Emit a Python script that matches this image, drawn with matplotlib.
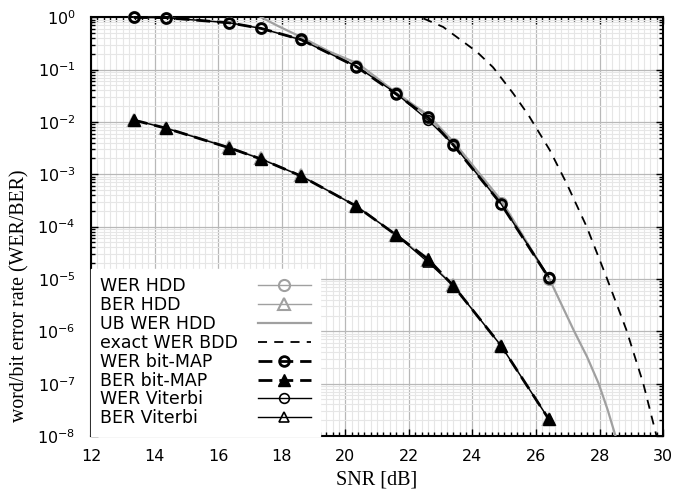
import numpy as np
import matplotlib
matplotlib.use('Agg')
import matplotlib.pyplot as plt
from matplotlib.ticker import MultipleLocator, LogLocator, NullFormatter

plt.rcParams['font.family'] = ['DejaVu Sans']

# simulated points (SNR in dB)
snr = [13.35, 14.35, 16.35, 17.35, 18.6, 20.35, 21.6, 22.6, 23.4, 24.9, 26.4]
wer_hdd = [0.99, 0.98, 0.79, 0.62, 0.38, 0.118, 0.036, 0.0125, 0.0038, 2.8e-4, 1.0e-5]
ber_hdd = [0.0110, 7.8e-3, 3.3e-3, 2.0e-3, 9.5e-4, 2.5e-4, 7.0e-5, 2.3e-5, 7.5e-6, 5.3e-7, 2.1e-8]
wer_map = [0.99, 0.98, 0.78, 0.61, 0.375, 0.113, 0.034, 0.0122, 0.0036, 2.7e-4, 1.05e-5]
ber_map = [0.0108, 7.6e-3, 3.2e-3, 1.95e-3, 9.3e-4, 2.45e-4, 6.9e-5, 2.4e-5, 7.4e-6, 5.3e-7, 2.1e-8]
wer_vit = [0.99, 0.98, 0.78, 0.61, 0.37, 0.115, 0.035, 0.0108, 0.0037, 2.7e-4, 1.1e-5]
ber_vit = [0.0108, 7.6e-3, 3.2e-3, 1.95e-3, 9.3e-4, 2.45e-4, 6.9e-5, 2.1e-5, 7.4e-6, 5.3e-7, 2.1e-8]

# analytical curves
snr_ub = [17.0, 17.35, 17.9, 18.6, 19.5, 20.4, 21.6, 22.6, 23.4, 24.9, 26.42, 27.2, 27.6, 27.97, 28.25, 28.5, 28.7]
wer_ub = [1.3, 1.0, 0.67, 0.42, 0.22, 0.13, 0.036, 0.0135, 0.0042, 3.2e-4, 1.0e-5, 1.0e-6, 3.3e-7, 1.0e-7, 3.2e-8, 1.0e-8, 4e-9]
snr_bdd = [22.0, 22.4, 23.08, 23.65, 24.13, 24.65, 25.28, 25.76, 26.43, 26.96, 27.59, 28.21, 28.84, 29.37, 29.79, 30.0]
wer_bdd = [1.3, 0.98, 0.65, 0.36, 0.22, 0.11, 0.035, 0.0135, 2.9e-3, 6.7e-4, 1.0e-4, 1.1e-5, 1.07e-6, 1.02e-7, 1.0e-8, 3e-9]

fig = plt.figure(figsize=(6.74, 4.91), dpi=100)
ax = fig.add_axes([0.135, 0.112, 0.849, 0.853])

gray = '#a0a0a0'
ax.semilogy(snr, wer_hdd, color=gray, lw=1, marker='o', ms=8, mfc='none', mec=gray, mew=1.5,
            label='WER HDD', clip_on=False, zorder=3)
ax.semilogy(snr, ber_hdd, color=gray, lw=1, marker='^', ms=8, mfc='none', mec=gray, mew=1.5,
            label='BER HDD', clip_on=False, zorder=3)
ax.semilogy(snr_ub, wer_ub, color=gray, lw=1.6, label='UB WER HDD', zorder=3)
ax.semilogy(snr_bdd, wer_bdd, color='black', lw=1.3, dashes=(5, 4), label='exact WER BDD', zorder=3)
ax.semilogy(snr, wer_map, color='black', lw=2, dashes=(5, 2.5), marker='o', ms=7, mfc='none',
            mec='black', mew=2, label='WER bit-MAP', clip_on=False, zorder=4)
ax.semilogy(snr, ber_map, color='black', lw=2, dashes=(5, 2.5), marker='^', ms=8, mfc='black',
            mec='black', label='BER bit-MAP', clip_on=False, zorder=4)
ax.semilogy(snr, wer_vit, color='black', lw=1, marker='o', ms=7, mfc='none', mec='black', mew=1.2,
            label='WER Viterbi', clip_on=False, zorder=5)
ax.semilogy(snr, ber_vit, color='black', lw=1, marker='^', ms=7, mfc='none', mec='black', mew=1.2,
            label='BER Viterbi', clip_on=False, zorder=5)

ax.set_xlim(12, 30)
ax.set_ylim(1e-8, 1)
ax.xaxis.set_major_locator(MultipleLocator(2))
ax.xaxis.set_minor_locator(MultipleLocator(0.2))
ax.yaxis.set_major_locator(LogLocator(base=10, numticks=20))
ax.yaxis.set_minor_locator(LogLocator(base=10, subs=np.arange(2, 10), numticks=20))
ax.yaxis.set_minor_formatter(NullFormatter())

ax.grid(which='major', color='#b8b8b8', lw=0.9)
ax.grid(which='minor', color='#e6e6e6', lw=0.8)
ax.set_axisbelow(True)

ax.tick_params(which='both', direction='in', top=True, right=True, labelsize=11.5, width=1)
ax.tick_params(which='major', length=5)
ax.tick_params(which='minor', length=3)
ax.tick_params(axis='x', pad=9)
ax.tick_params(axis='y', pad=11)
for s in ax.spines.values():
    s.set_linewidth(1.5)

ax.set_xlabel('SNR [dB]', family='Liberation Serif', fontsize=14.5, labelpad=5)
ax.set_ylabel('word/bit error rate (WER/BER)', family='Liberation Serif', fontsize=14.3)
ax.yaxis.set_label_coords(-0.108, 0.335)

leg = ax.legend(loc='lower left', fontsize=12.5, frameon=True, fancybox=False, edgecolor='white',
                framealpha=1, borderaxespad=0.0, handlelength=3.1, handletextpad=1.15,
                labelspacing=0.05, markerfirst=False, borderpad=0.5)

# left-align the labels while keeping the line samples in one column
fig.canvas.draw()
r = fig.canvas.get_renderer()
widths = [t.get_window_extent(r).width for t in leg.get_texts()]
col = leg._legend_handle_box.get_children()[0]
col.align = 'left'
for row, w in zip(col.get_children(), widths):
    row.sep += (max(widths) - w) * 72 / fig.dpi

fig.savefig('out.png', dpi=100)
